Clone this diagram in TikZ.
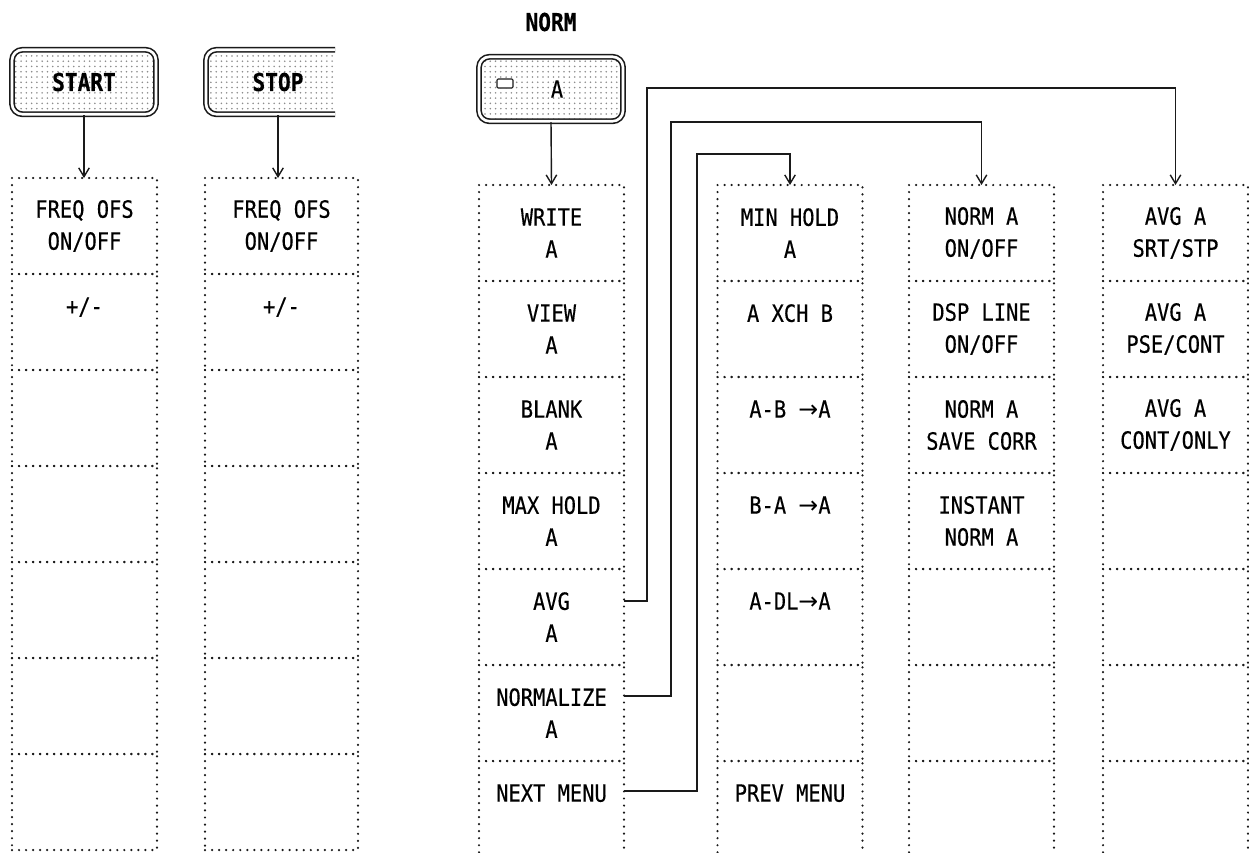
\documentclass[tikz,border=0pt]{standalone}
\usepackage{fontspec}
\setmonofont[FakeStretch=0.86, FakeBold=0.4]{DejaVu Sans Mono}
\newfontfamily\arrowfont{DejaVu Sans}
\newcommand{\toA}{{\arrowfont →}}
\usetikzlibrary{arrows.meta,positioning,patterns}
\definecolor{PanelInk}{HTML}{1A1A1A}
\definecolor{KeyDots}{HTML}{8C8C8C}

\begin{document}
\begin{tikzpicture}[
    x=0.2mm, y=-0.2mm,
    font=\ttfamily\fontsize{13.5}{18.2}\selectfont,
    cell/.style={draw=PanelInk, line width=1.4pt, line cap=round, dash pattern=on 0pt off 3.9937pt, minimum width=29mm, minimum height=19.2mm, inner sep=0pt, outer sep=0pt, align=center},
    widecell/.style={cell, dash pattern=on 0pt off 4.0133pt, minimum width=30.6mm},
    softkey/.style={draw=PanelInk, line width=0.9pt, double=white, double distance=1.5pt, rounded corners=6pt, pattern=dots, pattern color=KeyDots, minimum width=28.8mm, minimum height=12.9mm, font=\ttfamily\bfseries\fontsize{14}{15}\selectfont},
    led/.style={draw=PanelInk, line width=0.6pt, fill=white, rounded corners=0.6pt, minimum width=3.2mm, minimum height=1.8mm, inner sep=0pt},
    link/.style={draw=PanelInk, line width=0.8pt, -{Straight Barb[length=5pt,width=6pt]}}
]
  \path[use as bounding box, clip] (0,0) rectangle (1249,852);

  % -------------------------------------------------------------
  % START / STOP
  % -------------------------------------------------------------
  \node[softkey] (startkey) at (84,82) {START};
  \begin{scope}
    \clip (190,30) rectangle (335,130);
    \node[softkey] (stopkey) at (278,82) {STOP};
  \end{scope}

  % Menu START
  \node[cell] (ofsA) at (84.5,226) {FREQ OFS\\ON/OFF};
  \node[cell, below=0pt of ofsA] (signA) {+/-\\\mbox{}};
  \node[cell, below=0pt of signA] (startC) {};
  \node[cell, below=0pt of startC] (startD) {};
  \node[cell, below=0pt of startD] (startE) {};
  \node[cell, below=0pt of startE] (startF) {};
  \node[cell, below=0pt of startF] (startG) {};

  % Menu STOP
  \node[widecell] (ofsB) at (281.5,226) {FREQ OFS\\ON/OFF};
  \node[widecell, below=0pt of ofsB] (signB) {+/-\\\mbox{}};
  \node[widecell, below=0pt of signB] (stopC) {};
  \node[widecell, below=0pt of stopC] (stopD) {};
  \node[widecell, below=0pt of stopD] (stopE) {};
  \node[widecell, below=0pt of stopE] (stopF) {};
  \node[widecell, below=0pt of stopF] (stopG) {};

  \draw[link] (startkey.south) -- (startkey.south |- ofsA.north);
  \draw[link] (stopkey.south) -- (stopkey.south |- ofsB.north);

  % -------------------------------------------------------------
  % NORM A
  % -------------------------------------------------------------
  \node[font=\ttfamily\bfseries\fontsize{14}{15}\selectfont] (normlabel) at (551,22) {NORM};
  \node[softkey] (normkey) at (551,89) {};
  \node[led] (normled) at (505,83.5) {};
  \node (normA) at (557,89) {A};

  % Menu 1
  \node[cell] (write) at (551.5,233) {WRITE\\A};
  \node[cell, below=0pt of write] (view) {VIEW\\A};
  \node[cell, below=0pt of view] (blank) {BLANK\\A};
  \node[cell, below=0pt of blank] (maxhold) {MAX HOLD\\A};
  \node[cell, below=0pt of maxhold] (avg) {AVG\\A};
  \node[cell, below=0pt of avg] (normalize) {NORMALIZE\\A};
  \node[cell, below=0pt of normalize] (nextmenu) {NEXT MENU\\\mbox{}};

  % Menu 2
  \node[cell] (minhold) at (790,233) {MIN HOLD\\A};
  \node[cell, below=0pt of minhold] (xchb) {A XCH B\\\mbox{}};
  \node[cell, below=0pt of xchb] (amb) {A-B \toA A\\\mbox{}};
  \node[cell, below=0pt of amb] (bma) {B-A \toA A\\\mbox{}};
  \node[cell, below=0pt of bma] (adl) {A-DL\toA A\\\mbox{}};
  \node[cell, below=0pt of adl] (menu2F) {};
  \node[cell, below=0pt of menu2F] (prevmenu) {PREV MENU\\\mbox{}};

  % Menu NORMALIZE
  \node[cell] (normonoff) at (981.5,233) {NORM A\\ON/OFF};
  \node[cell, below=0pt of normonoff] (dspline) {DSP LINE\\ON/OFF};
  \node[cell, below=0pt of dspline] (savecorr) {NORM A\\SAVE CORR};
  \node[cell, below=0pt of savecorr] (instant) {INSTANT\\NORM A};
  \node[cell, below=0pt of instant] (normE) {};
  \node[cell, below=0pt of normE] (normF) {};
  \node[cell, below=0pt of normF] (normG) {};

  % Menu AVG
  \node[cell] (avgsrt) at (1175.5,233) {AVG A\\SRT/STP};
  \node[cell, below=0pt of avgsrt] (avgpse) {AVG A\\PSE/CONT};
  \node[cell, below=0pt of avgpse] (avgcont) {AVG A\\CONT/ONLY};
  \node[cell, below=0pt of avgcont] (avgD) {};
  \node[cell, below=0pt of avgD] (avgE) {};
  \node[cell, below=0pt of avgE] (avgF) {};
  \node[cell, below=0pt of avgF] (avgG) {};

  % Verbindungen
  \draw[link] (normkey.south) -- (write.north);
  \draw[link] ([yshift=3.2mm]avg.east) -| (647,88) -| (avgsrt.north);
  \draw[link] ([yshift=3.4mm]normalize.east) -| (671,122) -| (normonoff.north);
  \draw[link] ([yshift=3.6mm]nextmenu.east) -| (697,154) -| (minhold.north);

\end{tikzpicture}
\end{document}
